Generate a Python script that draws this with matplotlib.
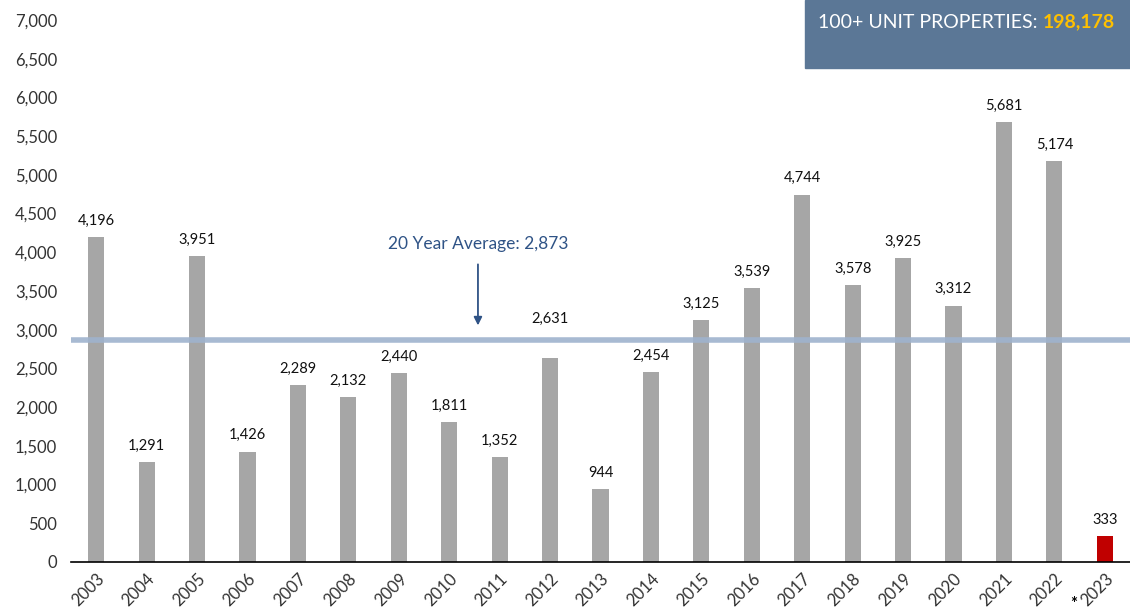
import numpy as np
import matplotlib.pyplot as plt

years = [str(y) for y in range(2003, 2024)]
units = [4196, 1291, 3951, 1426, 2289, 2132, 2440, 1811, 1352, 2631, 944,
         2454, 3125, 3539, 4744, 3578, 3925, 3312, 5681, 5174, 333]
average = 2873
total_units = "198,178"

plt.rcParams['font.family'] = ['Lato', 'DejaVu Sans']

fig = plt.figure(figsize=(11.3, 6.15), dpi=100)
ax = fig.add_axes([71 / 1130, 1 - 562 / 615, 1 - 71 / 1130, 542 / 615])

x = np.arange(len(years))
colors = ['#A6A6A6'] * (len(years) - 1) + ['#C00000']
ax.bar(x, units, width=0.32, color=colors, zorder=2)

for xi, v in zip(x, units):
    # the 2012 label sits above the average line in the original
    off = 420 if years[xi] == '2012' else 120
    ax.text(xi, v + off, f"{v:,}", ha='center', va='bottom', fontsize=10.5,
            color='#111111', zorder=4)

# 20 year average line
ax.axhline(average, color='#9FB3CE', linewidth=4, alpha=0.9, zorder=3)
ax.annotate('', xy=(7.57, 3020), xytext=(7.57, 3880),
            arrowprops=dict(arrowstyle='-|>', color='#2F5386', lw=1.3, mutation_scale=12))
ax.text(7.57, 4110, f"20 Year Average: {average:,}", ha='center', va='center',
        fontsize=12.5, color='#2F5386')

ax.set_xlim(-0.5, 20.5)
ax.set_ylim(0, 7000)
ax.set_yticks(np.arange(0, 7001, 500))
ax.set_yticklabels([f"{v:,}" for v in range(0, 7001, 500)], fontsize=12, color='#333333')
ax.set_xticks(x)
ax.set_xticklabels(years, rotation=45, ha='right', rotation_mode='anchor',
                   fontsize=12, color='#333333')
ax.tick_params(axis='both', length=0, pad=10)
ax.tick_params(axis='x', pad=6)
for s in ['top', 'right', 'left']:
    ax.spines[s].set_visible(False)
ax.spines['bottom'].set_color('black')
ax.spines['bottom'].set_linewidth(1.2)

# asterisk on 2023
fig.text(1074 / 1130, 1 - 612 / 615, '*', fontsize=12, ha='center', va='bottom', color='black',
         fontweight='bold')

# total box top right
box = plt.Rectangle((805 / 1130, 1 - 68 / 615), 325 / 1130, 68 / 615,
                    transform=fig.transFigure, color='#5B7796', zorder=5)
fig.patches.append(box)
t1 = fig.text(818 / 1130, 1 - 22 / 615, "100+ UNIT PROPERTIES: ", fontsize=14,
              color='white', va='center', ha='left', zorder=6)
fig.canvas.draw()
bb = t1.get_window_extent()
fig.text(bb.x1 / 1130, 1 - 22 / 615, total_units, fontsize=14, fontweight='bold',
         color='#FFC000', va='center', ha='left', zorder=6)

fig.savefig('out.png', dpi=100)
